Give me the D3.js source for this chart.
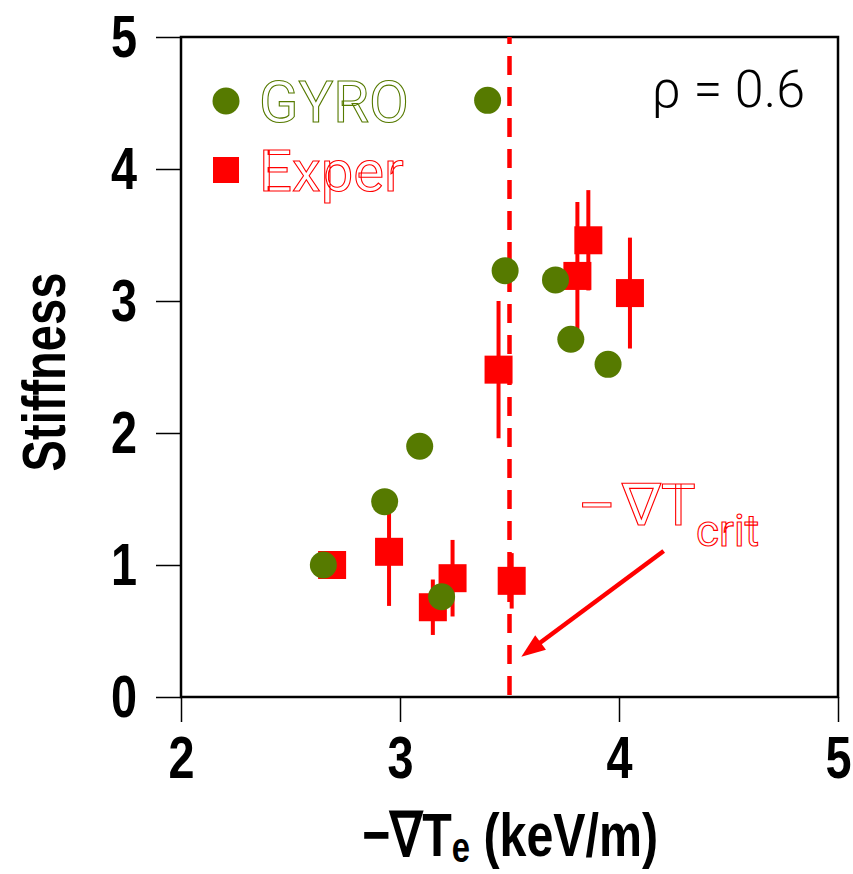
<!DOCTYPE html>
<html>
<head>
<meta charset="utf-8">
<script src="https://cdn.jsdelivr.net/npm/d3@7"></script>
<style>
  html, body { margin: 0; padding: 0; background: #fff; }
  svg { display: block; }
</style>
</head>
<body>
<svg id="chart" width="853" height="874"></svg>
<script>
// ---- data ----
const xTicks = [2, 3, 4, 5];
const yTicks = [0, 1, 2, 3, 4, 5];
const gyroX = [2.65, 2.93, 3.09, 3.19, 3.40, 3.48, 3.71, 3.78, 3.95];
const gyroY = [1.00, 1.48, 1.90, 0.76, 4.52, 3.23, 3.16, 2.71, 2.52];
const experX = [2.69, 2.95, 3.15, 3.24, 3.45, 3.51, 3.81, 3.86, 4.05];
const experY = [1.00, 1.10, 0.68, 0.90, 2.48, 0.88, 3.19, 3.46, 3.06];
const experErr = [0.00, 0.41, 0.21, 0.29, 0.52, 0.21, 0.56, 0.38, 0.42];
const critX = 3.5;
const arrowFrom = [4.204, 1.106];
const arrowTo = [3.554, 0.305];
const legendLabels = ["GYRO", "Exper"];

const GREEN = "#567a00";
const RED = "#ff0000";

const svg = d3.select("#chart");
const x = d3.scaleLinear().domain([2, 5]).range([181, 838]);
const y = d3.scaleLinear().domain([0, 5]).range([697, 37]);

const boldFont = "'Liberation Sans', Arial, sans-serif";
const thinFont = "Roboto, 'Noto Sans', sans-serif";
const SX = 0.78; // horizontal condensing of bold labels

// axes
const gx = svg.append("g").attr("transform", "translate(0,697)")
  .call(d3.axisBottom(x).tickValues(xTicks).tickSize(25).tickPadding(13).tickFormat(d3.format("d")));
const gy = svg.append("g").attr("transform", "translate(181,0)")
  .call(d3.axisLeft(y).tickValues(yTicks).tickSize(25).tickPadding(19).tickFormat(d3.format("d")));
[gx, gy].forEach(g => {
  g.select(".domain").remove();
  g.selectAll(".tick line").attr("stroke", "#000").attr("stroke-width", 1.5);
  g.selectAll(".tick text").attr("fill", "#000")
    .style("font-family", boldFont).style("font-weight", "bold").style("font-size", "60px")
    .attr("transform", `scale(${SX},1)`);
});
gy.selectAll(".tick text").attr("x", -44 / SX);

// frame
svg.append("rect")
  .attr("x", x(2)).attr("y", y(5))
  .attr("width", x(5) - x(2)).attr("height", y(0) - y(5))
  .attr("fill", "none").attr("stroke", "#000").attr("stroke-width", 2.5);

// error bars
const exper = experX.map((v, i) => ({x: v, y: experY[i], e: experErr[i]}));
svg.append("g").selectAll("line").data(exper.filter(d => d.e > 0)).join("line")
  .attr("x1", d => x(d.x)).attr("x2", d => x(d.x))
  .attr("y1", d => y(d.y + d.e)).attr("y2", d => y(d.y - d.e))
  .attr("stroke", RED).attr("stroke-width", 4);

// squares
const sq = 28;
svg.append("g").selectAll("rect").data(exper).join("rect")
  .attr("x", d => x(d.x) - sq / 2).attr("y", d => y(d.y) - sq / 2)
  .attr("width", sq).attr("height", sq).attr("fill", RED);

// critical dashed line
svg.append("line")
  .attr("x1", x(critX)).attr("x2", x(critX))
  .attr("y1", y(5)).attr("y2", y(0))
  .attr("stroke", RED).attr("stroke-width", 4.5)
  .attr("stroke-dasharray", "19,12").attr("stroke-dashoffset", 12);

// circles
const gyro = gyroX.map((v, i) => ({x: v, y: gyroY[i]}));
svg.append("g").selectAll("circle").data(gyro).join("circle")
  .attr("cx", d => x(d.x)).attr("cy", d => y(d.y)).attr("r", 13.5)
  .attr("fill", GREEN);

// arrow
const ax0 = x(arrowFrom[0]), ay0 = y(arrowFrom[1]);
const ax1 = x(arrowTo[0]), ay1 = y(arrowTo[1]);
const ang = Math.atan2(ay1 - ay0, ax1 - ax0);
const headL = 24, headW = 9;
const bx = ax1 - headL * Math.cos(ang), by = ay1 - headL * Math.sin(ang);
svg.append("line")
  .attr("x1", ax0).attr("y1", ay0).attr("x2", bx + 4 * Math.cos(ang)).attr("y2", by + 4 * Math.sin(ang))
  .attr("stroke", RED).attr("stroke-width", 4.5);
svg.append("path")
  .attr("d", `M${ax1},${ay1} L${bx - headW * Math.sin(ang)},${by + headW * Math.cos(ang)} L${bx + headW * Math.sin(ang)},${by - headW * Math.cos(ang)} Z`)
  .attr("fill", RED);

// annotation text -∇T_crit (outlined)
const ann = svg.append("text")
  .attr("y", 525)
  .style("font-family", thinFont).style("font-weight", 400).style("font-size", "58px")
  .attr("fill", "#fff").attr("stroke", RED).attr("stroke-width", 1.1);
ann.append("tspan").attr("x", 578).text("\u2013");
ann.append("tspan").attr("x", 622).text("\u2207");
ann.append("tspan").attr("x", 661).text("T");
ann.append("tspan").attr("x", 696).attr("dy", 21).style("font-size", "44px").text("crit");

// legend
const legY = [101, 170];
svg.append("circle").attr("cx", 226).attr("cy", legY[0]).attr("r", 13.5).attr("fill", GREEN);
svg.append("rect").attr("x", 226 - 13).attr("y", legY[1] - 13).attr("width", 26).attr("height", 26).attr("fill", RED);
[GREEN, RED].forEach((c, i) => {
  svg.append("text").attr("x", 259).attr("y", legY[i] + 21)
    .style("font-family", thinFont).style("font-weight", 400).style("font-size", "58px")
    .attr("fill", "#fff").attr("stroke", c).attr("stroke-width", 1.1)
    .text(legendLabels[i]);
});

// rho label
svg.append("text").attr("x", 805).attr("y", 107).attr("text-anchor", "end")
  .style("font-family", thinFont).style("font-weight", 300).style("font-size", "52px")
  .attr("fill", "#000").text("\u03c1 = 0.6");

// axis titles
const xt = svg.append("text")
  .attr("transform", `translate(510,856) scale(${SX},1)`)
  .attr("text-anchor", "middle")
  .style("font-family", boldFont).style("font-weight", "bold").style("font-size", "62px").attr("fill", "#000");
xt.append("tspan").text("\u2212\u2207T");
xt.append("tspan").attr("dy", 6).style("font-size", "42px").text("e");
xt.append("tspan").attr("dy", -6).text(" (keV/m)");

svg.append("text")
  .attr("transform", `translate(65,372) rotate(-90) scale(0.76,1)`)
  .attr("text-anchor", "middle")
  .style("font-family", boldFont).style("font-weight", "bold").style("font-size", "62px").attr("fill", "#000")
  .text("Stiffness");
</script>
</body>
</html>
